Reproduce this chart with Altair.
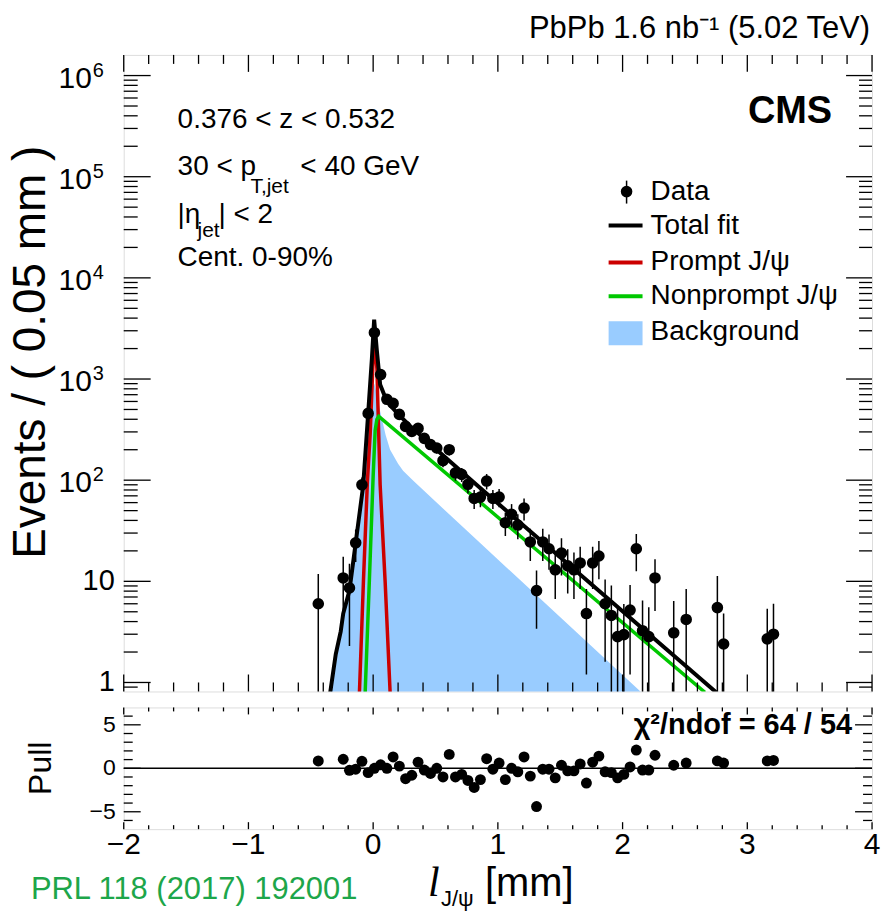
import altair as alt
import pandas as pd

FONT = "Liberation Sans"
W, HM, HP = 750, 638, 122
YMIN, YMAX = 0.815, 1.6e6
BLUE, RED, GREEN = "#99ccff", "#cc0000", "#00c800"

# ---------------- data ----------------
bin_x = [-0.44, -0.24, -0.19, -0.14, -0.09, -0.04, 0.01, 0.06, 0.11, 0.16, 0.21, 0.26, 0.31, 0.36,
         0.41, 0.46, 0.51, 0.56, 0.61, 0.66, 0.71, 0.76, 0.81, 0.86, 0.91, 0.96, 1.01, 1.06, 1.11,
         1.16, 1.21, 1.26, 1.31, 1.36, 1.41, 1.46, 1.51, 1.56, 1.61, 1.66, 1.71, 1.76, 1.81, 1.86,
         1.91, 1.96, 2.01, 2.06, 2.11, 2.16, 2.21, 2.26, 2.41, 2.51, 2.76, 2.81, 3.16, 3.21]
counts = [6.0, 10.8, 8.6, 24, 90, 457, 2870, 1107, 630, 574, 447, 340, 303, 325,
          259, 225, 208, 156, 200, 118, 114, 91, 66, 68, 98, 66, 68, 38, 46,
          36, 53, 24.5, 8.1, 24.5, 21, 13, 19, 14.2, 13, 15.2, 4.8, 15.2, 17.8, 6.0,
          4.6, 2.84, 2.97, 5.2, 21, 3.25, 2.84, 10.8, 3.1, 4.2, 5.5, 2.4, 2.7, 3.0]
errors = [5.8, 6.7, 6.3, 8.5, 16, 37, 93, 58, 43, 41, 37, 32, 30, 31,
          28, 26, 25, 22, 25, 19, 18, 17, 14, 14, 17, 14, 14, 10, 12,
          10, 13, 8.6, 4.7, 8.6, 8.0, 6.3, 7.6, 6.6, 6.3, 6.8, 3.6, 6.8, 7.3, 4.4,
          4.5, 2.9, 3.0, 4.0, 8.4, 3.2, 2.7, 5.7, 3.3, 4.2, 5.8, 2.4, 2.65, 3.0]
pulls = [0.84, 1.04, -0.23, -0.1, 0.8, -0.5, 0.0, 0.4, 0.0, 1.3, 0.25, -1.2, -0.8, 0.7,
         -0.2, -0.6, 0.0, -1.0, 1.6, -1.0, -0.7, -1.4, -2.2, -1.3, 1.1, -0.1, 0.6, -1.3, 0.0,
         -0.4, 1.3, -0.9, -4.4, -0.1, -0.1, -1.1, 0.35, -0.3, -0.3, 0.5, -1.7, 0.7, 1.4, -0.4,
         -0.5, -1.1, -0.7, 0.15, 2.1, -0.2, -0.2, 1.5, 0.35, 0.6, 0.85, 0.6, 0.85, 0.9]

total_x = [-0.344, -0.30, -0.26, -0.24, -0.19, -0.14, -0.08, -0.04, -0.01, 0.008, 0.03, 0.056,
           0.11, 0.2, 0.3, 0.5, 0.856, 1.5, 2.15, 2.5, 2.75]
total_y = [0.8, 1.9, 3.2, 4.8, 8.1, 24, 88, 457, 1600, 3855, 1900, 883,
           600, 450, 340, 205, 84, 17.3, 3.5, 1.48, 0.8]
prompt_x = [-0.11, -0.078, -0.046, -0.024, -0.003, 0.01, 0.03, 0.056, 0.096, 0.136]
prompt_y = [0.8, 10, 98, 284, 1270, 2850, 1270, 90, 10, 0.8]
nonprompt_x = [-0.064, -0.03, 0.0, 0.016, 0.03, 0.045, 2.66]
nonprompt_y = [0.8, 10.5, 110, 310, 400, 427, 0.8]
bkg_x = [-0.34, -0.30, -0.24, -0.19, -0.14, -0.09, -0.046, -0.01, 0.01, 0.03, 0.056, 0.1,
         0.136, 0.2, 0.24, 0.32, 0.856, 2.15]
bkg_y = [0.8, 1.9, 4.8, 8.0, 22, 85, 350, 800, 900, 700, 480, 280,
         200, 145, 124, 99, 24, 0.8]

# tick positions and labels
x_major = [-2, -1, 0, 1, 2, 3, 4]
x_major_text = ["\u22122", "\u22121", "0", "1", "2", "3", "4"]
x_minor = [-1.8, -1.6, -1.4, -1.2, -0.8, -0.6, -0.4, -0.2, 0.2, 0.4, 0.6, 0.8,
           1.2, 1.4, 1.6, 1.8, 2.2, 2.4, 2.6, 2.8, 3.2, 3.4, 3.6, 3.8]
y_major = [1, 10, 100, 1000, 10000, 100000, 1000000]
y_minor = [0.9] + [m * 10 ** e for e in range(6) for m in range(2, 10)]
y_plain_vals = [1, 10]
y_plain_text = ["1", "10"]
y_pow_vals = [100, 1000, 10000, 100000, 1000000]
y_pow_exp = ["2", "3", "4", "5", "6"]
pull_major = [-5, 0, 5]
pull_major_text = ["\u22125", "0", "5"]
pull_minor = [-6, -4, -3, -2, -1, 1, 2, 3, 4, 6]

# ---------------- frames ----------------
one = pd.DataFrame({"k": [0]})
data_df = pd.DataFrame({"x": bin_x, "n": counts, "e": errors, "pull": pulls})
data_df["lo"] = (data_df["n"] - data_df["e"]).clip(lower=0.5)
data_df["hi"] = data_df["n"] + data_df["e"]
tot_df = pd.DataFrame({"x": total_x, "y": total_y})
pr_df = pd.DataFrame({"x": prompt_x, "y": prompt_y})
np_df = pd.DataFrame({"x": nonprompt_x, "y": nonprompt_y})
bk_df = pd.DataFrame({"x": bkg_x, "y": bkg_y})
bk_df["base"] = 0.5

xs = alt.Scale(domain=[-2, 4], nice=False, zero=False)
ysm = alt.Scale(type="log", domain=[YMIN, YMAX], nice=False)
ysp = alt.Scale(domain=[-7, 7], nice=False, zero=False)


def X(f):
    return alt.X(f"{f}:Q", scale=xs, axis=None)


def YM(f):
    return alt.Y(f"{f}:Q", scale=ysm, axis=None)


def YP(f):
    return alt.Y(f"{f}:Q", scale=ysp, axis=None)


def T(s, x, y, size, align="left", weight="normal", angle=0, color="black",
      style="normal", font=FONT):
    return alt.Chart(one).mark_text(
        text=s, fontSize=size, font=font, align=align, baseline="middle",
        fontWeight=weight, angle=angle, color=color, fontStyle=style
    ).encode(x=alt.value(x), y=alt.value(y))


def xticks(vals, y0, y1):
    return alt.Chart(pd.DataFrame({"t": vals})).mark_rule(color="black", strokeWidth=1.3).encode(
        x=X("t"), y=alt.value(y0), y2=alt.value(y1))


def yticks(vals, x0, x1, ysc):
    return alt.Chart(pd.DataFrame({"t": vals})).mark_rule(color="black", strokeWidth=1.3).encode(
        y=alt.Y("t:Q", scale=ysc, axis=None), x=alt.value(x0), x2=alt.value(x1))


# ---------------- main panel ----------------
area = alt.Chart(bk_df).mark_area(color=BLUE, opacity=1, clip=True).encode(
    x=X("x"), y=YM("y"), y2="base:Q")
red = alt.Chart(pr_df).mark_line(color=RED, strokeWidth=3.5, clip=True).encode(x=X("x"), y=YM("y"))
green = alt.Chart(np_df).mark_line(color=GREEN, strokeWidth=3.5, clip=True).encode(x=X("x"), y=YM("y"))
black = alt.Chart(tot_df).mark_line(color="black", strokeWidth=4, clip=True).encode(x=X("x"), y=YM("y"))
ebars = alt.Chart(data_df).mark_rule(color="black", strokeWidth=1.5, clip=True).encode(
    x=X("x"), y=YM("lo"), y2="hi:Q")
pts = alt.Chart(data_df).mark_circle(color="black", size=135, opacity=1).encode(x=X("x"), y=YM("n"))

main_ticks = [
    xticks(x_major, 0, 17), xticks(x_minor, 0, 9),
    xticks(x_major, HM - 17, HM), xticks(x_minor, HM - 9, HM),
    yticks(y_major, 0, 27, ysm), yticks(y_minor, 0, 14, ysm),
    yticks(y_major, W - 26, W, ysm), yticks(y_minor, W - 13, W, ysm),
]

ylab_plain = alt.Chart(pd.DataFrame({"v": y_plain_vals, "s": y_plain_text})).mark_text(
    align="right", baseline="middle", fontSize=29, font=FONT, color="black").encode(
    x=alt.value(-9), y=YM("v"), text="s:N")
ylab_base = alt.Chart(pd.DataFrame({"v": y_pow_vals})).mark_text(
    text="10", align="right", baseline="middle", fontSize=30, font=FONT, color="black", dy=3).encode(
    x=alt.value(-32), y=YM("v"))
ylab_exp = alt.Chart(pd.DataFrame({"v": y_pow_vals, "s": y_pow_exp})).mark_text(
    align="left", baseline="middle", fontSize=20, font=FONT, color="black", dy=-5).encode(
    x=alt.value(-31), y=YM("v"), text="s:N")

texts_main = [
    T("Events / ( 0.05 mm )", -93, 298, 46, align="center", angle=270),
    T("PbPb 1.6 nb\u207b\u00b9 (5.02 TeV)", 748, -26, 31, align="right"),
    T("CMS", 710, 57, 38, align="right", weight="bold"),
    T("0.376 < z < 0.532", 54, 65, 28),
    T("30 < p", 54, 112, 28),
    T("T,jet", 127, 132, 21),
    T("< 40 GeV", 177, 112, 28),
    T("|\u03b7", 54, 160, 28),
    T("jet", 74, 177, 21),
    T("| < 2", 95, 160, 28),
    T("Cent. 0-90%", 54, 204, 28),
    # legend
    T("Data", 528, 137, 28),
    T("Total fit", 528, 171, 28),
    T("Prompt J/\u03c8", 528, 208, 28),
    T("Nonprompt J/\u03c8", 528, 242, 28),
    T("Background", 528, 278, 28),
]

legend_marks = [
    alt.Chart(one).mark_rule(color="black", strokeWidth=1.5).encode(
        x=alt.value(504), y=alt.value(126), y2=alt.value(149)),
    alt.Chart(one).mark_circle(color="black", size=135, opacity=1).encode(
        x=alt.value(504), y=alt.value(137)),
    alt.Chart(one).mark_rule(color="black", strokeWidth=4).encode(
        x=alt.value(486), x2=alt.value(520), y=alt.value(171)),
    alt.Chart(one).mark_rule(color=RED, strokeWidth=4).encode(
        x=alt.value(486), x2=alt.value(520), y=alt.value(208)),
    alt.Chart(one).mark_rule(color=GREEN, strokeWidth=4).encode(
        x=alt.value(486), x2=alt.value(520), y=alt.value(242)),
    alt.Chart(one).mark_rect(color=BLUE, opacity=1).encode(
        x=alt.value(486), x2=alt.value(520), y=alt.value(267), y2=alt.value(291)),
]

anchor = alt.Chart(one).mark_rule(color="white", opacity=0, strokeWidth=1).encode(
    x=alt.value(-123), x2=alt.value(-122), y=alt.value(-53), y2=alt.value(-52))

main = alt.layer(
    area, red, green, black, ebars, pts, *main_ticks,
    ylab_plain, ylab_base, ylab_exp, *texts_main, *legend_marks, anchor
).properties(width=W, height=HM)

# ---------------- pull panel ----------------
zero = alt.Chart(pd.DataFrame({"p": [0.0]})).mark_rule(color="black", strokeWidth=1.5).encode(
    y=YP("p"))
ppts = alt.Chart(data_df).mark_circle(color="black", size=120, opacity=1).encode(
    x=X("x"), y=YP("pull"))
pull_ticks = [
    xticks(x_major, 0, 7), xticks(x_minor, 0, 4),
    xticks(x_major, HP - 7, HP), xticks(x_minor, HP - 4, HP),
    yticks(pull_major, 0, 17, ysp), yticks(pull_minor, 0, 9, ysp),
    yticks(pull_major, W - 17, W, ysp), yticks(pull_minor, W - 9, W, ysp),
]
xlab = alt.Chart(pd.DataFrame({"v": x_major, "s": x_major_text})).mark_text(
    align="center", baseline="middle", fontSize=30, font=FONT, color="black").encode(
    x=X("v"), y=alt.value(HP + 16), text="s:N")
plab = alt.Chart(pd.DataFrame({"v": pull_major, "s": pull_major_text})).mark_text(
    align="right", baseline="middle", fontSize=23, font=FONT, color="black").encode(
    x=alt.value(-8), y=YP("v"), text="s:N")
texts_pull = [
    T("\u03c7\u00b2/ndof = 64 / 54", 730, 18, 29, align="right", weight="bold"),
    T("Pull", -83, 61, 32, align="center", angle=270),
    T("l", 305, 176, 42, style="italic", font="Liberation Serif"),
    T("J/\u03c8", 318, 192, 22),
    T("[mm]", 362, 177, 40),
    T("PRL 118 (2017) 192001", -93, 183, 31, color="#1da64a"),
]

pull = alt.layer(zero, ppts, *pull_ticks, xlab, plab, *texts_pull).properties(width=W, height=HP)

chart = alt.vconcat(main, pull, spacing=16, bounds="flush").properties(
    padding={"left": 0, "top": 0, "right": 0, "bottom": 0}
).configure_view(stroke="black", strokeWidth=1.5).configure(background="white")

chart.save("out.html", embed_options={"renderer": "svg", "actions": False})
